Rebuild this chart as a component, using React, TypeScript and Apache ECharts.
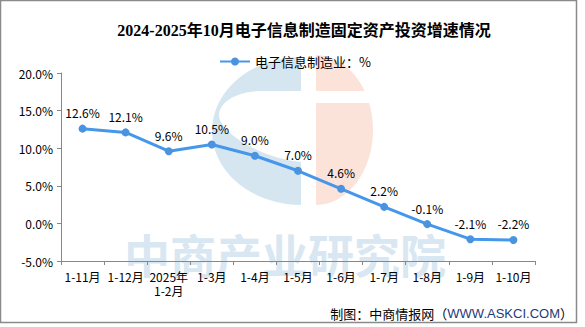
import React, { useEffect, useRef } from "react";
import * as echarts from "echarts";

const categories = ["1-11月", "1-12月", "2025年\n1-2月", "1-3月", "1-4月", "1-5月", "1-6月", "1-7月", "1-8月", "1-9月", "1-10月"];
const values = [12.6, 12.1, 9.6, 10.5, 9.0, 7.0, 4.6, 2.2, -0.1, -2.1, -2.2];
const seriesName = "电子信息制造业：%";
const titleText = "2024-2025年10月电子信息制造固定资产投资增速情况";
const watermarkText = "中商产业研究院";

let registered = false;
function registerShapes() {
  if (registered) return;
  registered = true;
  echarts.graphic.registerShape(
    "wmBlue",
    echarts.graphic.extendPath("M301,57 C251.8,57 212,90.1 212,131 C212,171.9 251.8,205 301,205 Z", {}) as any
  );
  echarts.graphic.registerShape(
    "wmBlueCut",
    echarts.graphic.extendPath("M301,91 L262,91 C236,91 218,103 219,116 C221,134 262,158 301,162 Z", {}) as any
  );
  echarts.graphic.registerShape(
    "wmPink",
    echarts.graphic.extendPath("M316,55 C347.5,55 373,89 373,130 C373,171 347.5,205 316,205 Z", {}) as any
  );
}

export default function App() {
  const ref = useRef<HTMLDivElement>(null);
  useEffect(() => {
    if (!ref.current) return;
    registerShapes();
    const chart = echarts.init(ref.current, undefined, { renderer: "svg" });
    const font = "'Noto Sans CJK SC', sans-serif";
    chart.setOption({
      animation: false,
      textStyle: { fontFamily: font },
      graphic: [
        { type: "wmBlue", x: 0, y: 0, z: 0, silent: true, style: { fill: "#d6e6f0" } },
        { type: "wmBlueCut", x: 0, y: 0, z: 0, silent: true, style: { fill: "#ffffff" } },
        { type: "wmPink", x: 0, y: 0, z: 0, silent: true, style: { fill: "#fbe3da" } },
        { type: "rect", z: 0, silent: true, shape: { x: 310, y: 91, width: 70, height: 12 }, style: { fill: "#ffffff" } },
        {
          type: "text", x: 285, y: 253, z: 0, silent: true,
          style: { text: watermarkText, fontSize: 46, fontWeight: "bold", fontFamily: font, fill: "#d8e7f1", align: "center", verticalAlign: "middle" },
        },
        {
          type: "rect", z: 0, silent: true,
          shape: { x: 0.5, y: 0.5, width: 576, height: 322 },
          style: { fill: "none", stroke: "#8a8a8a", lineWidth: 1.5 },
        },
        {
          type: "text", x: 304, y: 30, z: 10,
          style: {
            text: titleText, fontSize: 16, fontWeight: "bold",
            fontFamily: "'Liberation Serif', 'Noto Sans CJK SC', serif",
            fill: "#000", align: "center", verticalAlign: "middle",
          },
        },
        {
          type: "text", x: 573, y: 313, z: 10,
          style: {
            text: "{a|制图：中商情报网（}{b|WWW.ASKCI.COM}{a|）}",
            align: "right", verticalAlign: "middle",
            rich: {
              a: { fontSize: 13, fontFamily: font, fill: "#000", color: "#000" },
              b: { fontSize: 13, fontFamily: "'Liberation Sans', Arial, sans-serif", fill: "#1f3a7a", color: "#1f3a7a" },
            },
          },
        },
      ],
      legend: {
        left: 214, top: 50,
        itemWidth: 30, itemHeight: 10,
        textStyle: { fontSize: 13, color: "#000", fontFamily: font },
        data: [seriesName],
      },
      grid: { left: 61, right: 50, top: 73, bottom: 66 },
      xAxis: {
        type: "category",
        data: categories,
        boundaryGap: true,
        axisLine: { onZero: false, lineStyle: { color: "#888", width: 1 } },
        axisTick: { show: true, length: 4, lineStyle: { color: "#888" } },
        axisLabel: { color: "#000", fontSize: 12, margin: 8, lineHeight: 14, interval: 0 },
        splitLine: { show: false },
      },
      yAxis: {
        type: "value",
        min: -5, max: 20, interval: 5,
        axisLine: { show: true, lineStyle: { color: "#888", width: 1 } },
        axisTick: { show: true, length: 4, lineStyle: { color: "#888" } },
        axisLabel: { color: "#000", fontSize: 12, margin: 8, formatter: (v: number) => v.toFixed(1) + "%" },
        splitLine: { show: false },
      },
      series: [
        {
          name: seriesName,
          type: "line",
          data: values,
          z: 5,
          symbol: "circle",
          symbolSize: 8,
          lineStyle: { color: "#4597ec", width: 3 },
          itemStyle: { color: "#4a93e0" },
          label: {
            show: true, position: "top", distance: 6,
            color: "#000", fontSize: 12, fontFamily: font,
            formatter: (p: any) => p.value.toFixed(1) + "%",
          },
        },
      ],
    });
    return () => chart.dispose();
  }, []);
  return <div ref={ref} style={{ width: 585, height: 327, position: "absolute", left: 0, top: 0 }} />;
}
